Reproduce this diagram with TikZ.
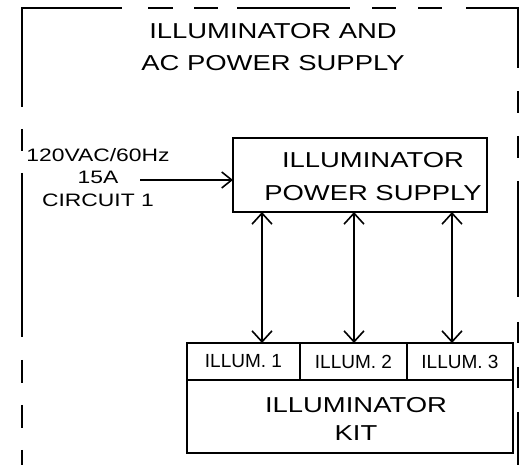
\documentclass[tikz,border=0pt]{standalone}
\usepackage{fontspec}
\setmainfont{Liberation Sans}
\newfontfamily\cadfont[FakeStretch=1.27]{Liberation Sans}
\usetikzlibrary{arrows.meta,positioning,calc}

\begin{document}
\begin{tikzpicture}[x=1pt, y=-1pt,
  box/.style={draw, line width=1.7pt, inner sep=0pt, outer sep=0pt},
  cadtext/.style={font=\cadfont\fontsize{21.6}{33}\selectfont, align=center, inner sep=0pt},
  frame/.style={line width=2.4pt, line join=miter},
  link/.style={line width=1.6pt,
    {Straight Barb[length=11pt,width=20pt]}-{Straight Barb[length=11pt,width=20pt]}}]
\useasboundingbox (0,0) rectangle (523,465);

% phantom outline of the cabinet
\draw[frame] (22,107) -- (22,8) -- (122,8);
\draw[frame] (466,8) -- (518,8) -- (518,68);
\foreach \ya/\yb in {129/151,173/337,360/383,405/428,450/465}
  \draw[frame] (22,\ya) -- (22,\yb);
\foreach \ya/\yb in {91/113,136/158,181/297,322/343,367/388,412/465}
  \draw[frame] (518,\ya) -- (518,\yb);
\foreach \xa/\xb in {148/173,194/218,237/350,372/396,418/442}
  \draw[frame] (\xa,8) -- (\xb,8);

\node[cadtext, font=\cadfont\fontsize{21.6}{32}\selectfont] (title) at (273,47)
  {ILLUMINATOR AND\\AC POWER SUPPLY};

% power supply
\node[box, minimum width=254pt, minimum height=74pt] (psu) at (360,175) {};
\node[cadtext] (psulabel) at ([xshift=13pt,yshift=-1.5pt]psu.center)
  {ILLUMINATOR\\POWER SUPPLY};

\node[cadtext, font=\cadfont\fontsize{18}{22.5}\selectfont] (mains) at (98,177.5)
  {120VAC/60Hz\\15A\\CIRCUIT 1};
\coordinate (feed) at (140,180);
\draw[line width=1.6pt, -{Straight Barb[length=10pt,width=16pt]}] (feed) -- (feed -| psu.west);

% illuminator kit
\node[box, minimum width=113pt, minimum height=37pt, font=\fontsize{19}{22}\selectfont]
  (illum1) at (243.5,361.5) {ILLUM. 1};
\node[box, minimum width=107pt, minimum height=37pt, font=\fontsize{19}{22}\selectfont,
  right=0pt of illum1] (illum2) {ILLUM. 2};
\node[box, minimum width=106pt, minimum height=37pt, font=\fontsize{19}{22}\selectfont,
  right=0pt of illum2] (illum3) {ILLUM. 3};
\node[box, anchor=north west, minimum width=326pt, minimum height=73pt]
  (kit) at (illum1.south west) {};
\draw[line width=2.8pt] (illum1.south west) -- (illum3.south east);
\node[cadtext, font=\cadfont\fontsize{21.6}{28}\selectfont] (kitlabel)
  at ([xshift=6pt,yshift=-2pt]kit.center) {ILLUMINATOR\\KIT};

\foreach \x [count=\i] in {262,354,452}{
  \coordinate (tap\i) at (\x,0);
  \draw[link] (psu.south -| tap\i) -- (illum\i.north -| tap\i);
}
\end{tikzpicture}
\end{document}
